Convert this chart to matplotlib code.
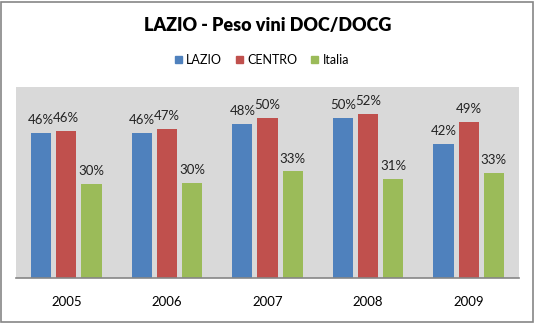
import matplotlib
matplotlib.use("Agg")
import numpy as np
from matplotlib import pyplot as plt
from matplotlib.patches import Patch, Rectangle

# Share of DOC/DOCG wine, per year
years = ["2005", "2006", "2007", "2008", "2009"]
lazio = [0.456, 0.456, 0.484, 0.503, 0.421]
centro = [0.462, 0.468, 0.503, 0.516, 0.491]
italia = [0.295, 0.298, 0.334, 0.311, 0.330]

series = [("LAZIO", lazio, "#4f81bd"),
          ("CENTRO", centro, "#c0504d"),
          ("Italia", italia, "#9bbb59")]

plt.rcParams["font.family"] = ["Lato", "DejaVu Sans"]

W, H = 535, 323
fig = plt.figure(figsize=(W / 100, H / 100), dpi=100)
fig.patch.set_facecolor("white")

# thin gray frame round the whole chart
fig.add_artist(Rectangle((1.5 / W, 1.5 / H), (W - 3.5) / W, (H - 3.5) / H,
                         transform=fig.transFigure, fill=False,
                         edgecolor="#868686", linewidth=1.2))

ax = fig.add_axes((16 / W, (H - 277.5) / H, 503 / W, 190.5 / H))
ax.set_facecolor("#d9d9d9")

x = np.arange(len(years))
width = 0.2
step = 0.25
for i, (name, vals, color) in enumerate(series):
    bars = ax.bar(x + (i - 1) * step, vals, width, color=color, label=name)
    ax.bar_label(bars, labels=[f"{v:.0%}" for v in vals], padding=5,
                 fontsize=9.5, color="#222222")

ax.set_xlim(-0.5, len(years) - 0.5)
ax.set_ylim(0, 0.6)
ax.set_yticks([])
ax.set_xticks(x)
ax.set_xticklabels(years, fontsize=9.5)
ax.tick_params(axis="x", length=0, pad=13)
for side in ("top", "right", "left"):
    ax.spines[side].set_visible(False)
ax.spines["bottom"].set_color("#868686")
ax.spines["bottom"].set_linewidth(1.2)

fig.text(0.5, 1 - 25 / H, "LAZIO - Peso vini DOC/DOCG", ha="center",
         va="center", fontsize=13, fontweight="heavy")

handles = [Patch(color=c) for _, _, c in series]
fig.legend(handles, [n for n, _, _ in series], loc="center",
           bbox_to_anchor=(262 / W, 1 - 60 / H), ncol=3, frameon=False,
           fontsize=9, handlelength=0.55, handleheight=0.55,
           handletextpad=0.35, columnspacing=1.1)

fig.savefig("out.png", dpi=100)
